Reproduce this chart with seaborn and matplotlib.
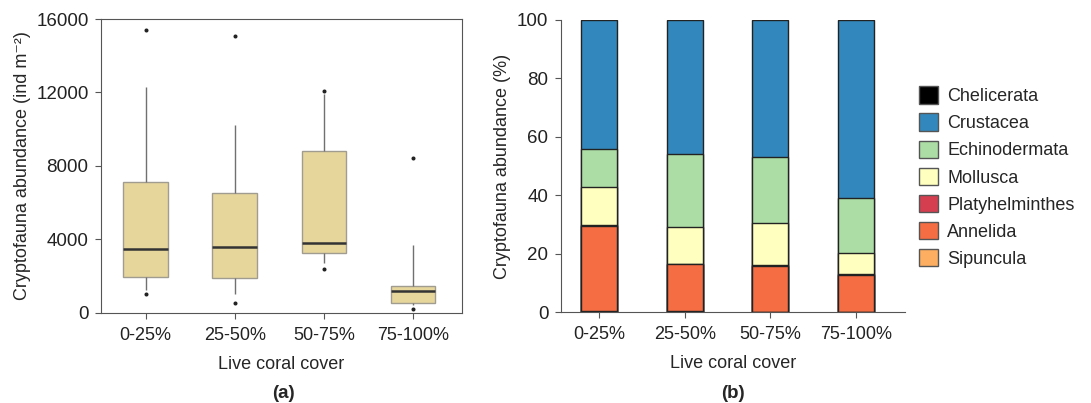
import numpy as np
import pandas as pd
import seaborn as sns
import matplotlib.pyplot as plt
from matplotlib.patches import Patch

# live coral cover classes
cover = ['0-25%', '25-50%', '50-75%', '75-100%']

# cryptofauna abundance per sample (ind m-2)
abund_0_25 = [1000, 1250, 1800, 2100, 2900, 3450, 5200, 6700, 7500, 12300, 15400]
abund_25_50 = [500, 1000, 1700, 2100, 3000, 3550, 4500, 6000, 7000, 10200, 15100]
abund_50_75 = [2400, 2700, 3150, 3330, 3600, 3820, 5500, 8400, 9260, 11900, 12100]
abund_75_100 = [180, 420, 500, 590, 900, 1200, 1300, 1400, 1540, 3700, 8400]

# relative abundance (%) per taxon, bottom of stack first
taxa = ['Sipuncula', 'Annelida', 'Platyhelminthes', 'Mollusca',
        'Echinodermata', 'Crustacea', 'Chelicerata']
sipuncula = [0.5, 0.2, 0.0, 0.0]
annelida = [29.0, 16.1, 15.7, 12.7]
platyhelminthes = [0.4, 0.3, 0.3, 0.2]
mollusca = [12.9, 12.4, 14.6, 7.4]
echinodermata = [13.1, 25.1, 22.6, 18.7]
crustacea = [44.1, 45.9, 46.8, 61.0]
chelicerata = [0.0, 0.0, 0.0, 0.0]

taxa_colors = {'Chelicerata': '#000000', 'Crustacea': '#3288bd',
               'Echinodermata': '#abdda4', 'Mollusca': '#ffffbf',
               'Platyhelminthes': '#d53e4f', 'Annelida': '#f46d43',
               'Sipuncula': '#fdae61'}

sns.set_style('ticks')
plt.rcParams['font.family'] = ['Liberation Sans', 'DejaVu Sans']
plt.rcParams['font.size'] = 13

fig = plt.figure(figsize=(10.91, 4.03), dpi=100)
ax1 = fig.add_axes([0.0926, 0.2242, 0.3309, 0.7286])
ax2 = fig.add_axes([0.514, 0.2258, 0.3155, 0.7246])

# ---- (a) boxplot
box_df = pd.DataFrame({
    'cover': np.repeat(cover, [len(abund_0_25), len(abund_25_50),
                               len(abund_50_75), len(abund_75_100)]),
    'abund': abund_0_25 + abund_25_50 + abund_50_75 + abund_75_100})

sns.boxplot(data=box_df, x='cover', y='abund', order=cover, ax=ax1,
            color='#e6d69c', width=0.5, whis=(10, 90), saturation=1,
            linewidth=1,
            boxprops=dict(edgecolor='#a09c90'),
            whiskerprops=dict(color='#707070'),
            capprops=dict(visible=False),
            medianprops=dict(color='#333333', linewidth=1.8),
            flierprops=dict(marker='o', markersize=1.9, markerfacecolor='#222222',
                            markeredgecolor='#222222'))
ax1.set_ylim(0, 16000)
ax1.set_xlim(-0.5, 3.55)
ax1.set_yticks([0, 4000, 8000, 12000, 16000])
ax1.set_xlabel('Live coral cover', labelpad=9)
ax1.set_ylabel('Cryptofauna abundance (ind m\u207b\u00b2)')
for s in ax1.spines.values():
    s.set_color('#555555')

# ---- (b) stacked bars: draw cumulative totals from top down
parts = [sipuncula, annelida, platyhelminthes, mollusca,
         echinodermata, crustacea, chelicerata]
cum = np.cumsum(np.array(parts), axis=0)
for i in range(len(taxa) - 1, -1, -1):
    if np.all(np.array(parts[i]) == 0):
        continue
    sns.barplot(x=cover, y=cum[i], ax=ax2, color=taxa_colors[taxa[i]],
                saturation=1, width=0.42, edgecolor='#222222', linewidth=1)
ax2.set_ylim(0, 100)
ax2.set_xlim(-0.447, 3.57)
ax2.set_yticks([0, 20, 40, 60, 80, 100])
ax2.set_xlabel('Live coral cover', labelpad=9)
ax2.set_ylabel('Cryptofauna abundance (%)')
sns.despine(ax=ax2)
for s in ax2.spines.values():
    s.set_color('#555555')

for ax in (ax1, ax2):
    ax.tick_params(colors='#555555', labelcolor='#222222', length=4, pad=6)
    ax.tick_params(axis='x', labelsize=13)
    ax.tick_params(axis='y', labelsize=13.5, pad=5)

legend_order = ['Chelicerata', 'Crustacea', 'Echinodermata', 'Mollusca',
                'Platyhelminthes', 'Annelida', 'Sipuncula']
handles = [Patch(facecolor=taxa_colors[t], edgecolor='#555555', label=t)
           for t in legend_order]
fig.legend(handles=handles, loc='upper left', bbox_to_anchor=(0.827, 0.826),
           frameon=False, fontsize=13, handlelength=1.1, handleheight=1.1,
           labelspacing=0.46, handletextpad=0.5)

fig.text(0.2595, 0.012, '(a)', ha='center', fontsize=13.5, fontweight='bold')
fig.text(0.672, 0.012, '(b)', ha='center', fontsize=13.5, fontweight='bold')

fig.savefig('out.png', dpi=100)
